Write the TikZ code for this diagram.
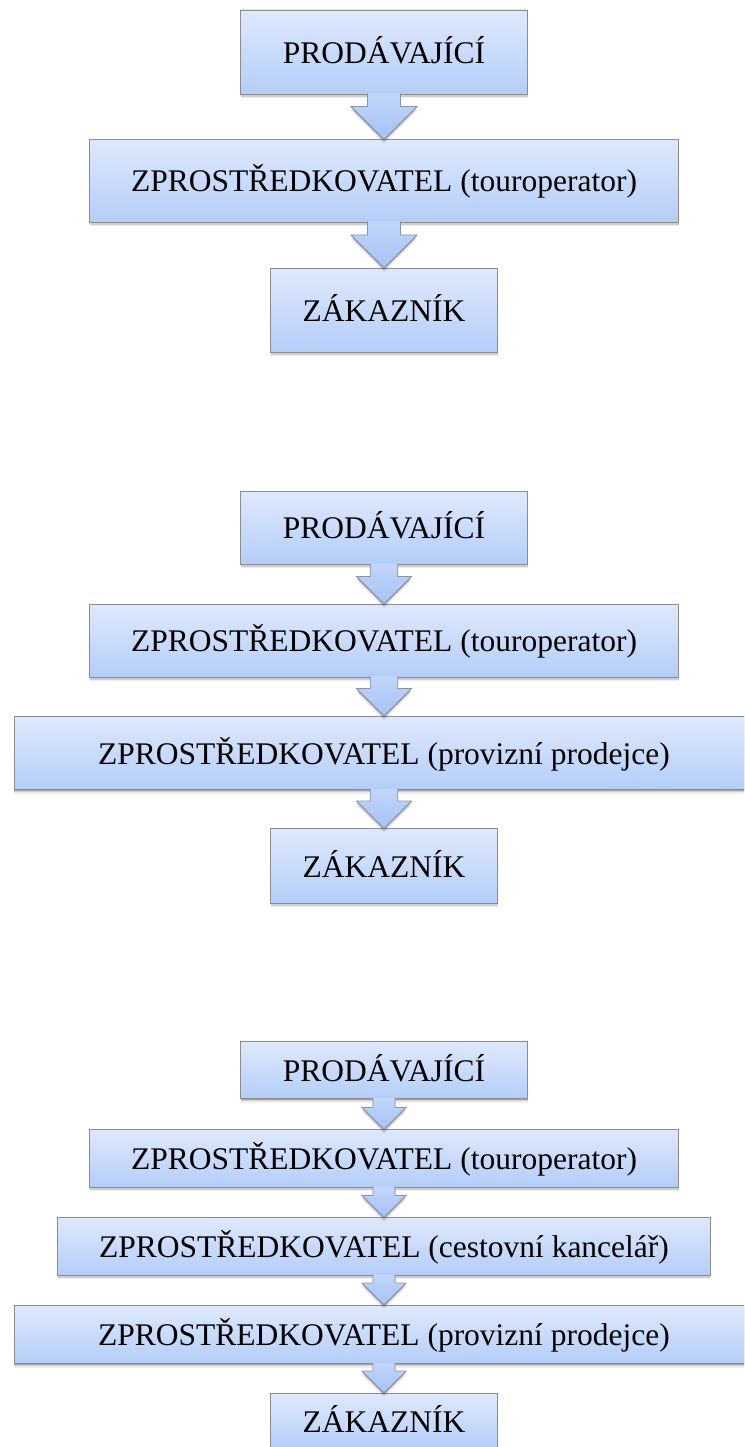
\documentclass[tikz,border=0pt]{standalone}
\usepackage{fontspec}
\setmainfont{Liberation Serif}
\usetikzlibrary{calc,shadows}
\definecolor{boxtop}{HTML}{DFE9FC}
\definecolor{boxbot}{HTML}{B4CDF9}
\definecolor{boxedge}{HTML}{8C8C8C}
\definecolor{arrtop}{HTML}{C3D6FA}
\definecolor{arrbot}{HTML}{A5C1F6}
\definecolor{arredge}{HTML}{8A93A6}
\tikzset{
  softshadow/.style={
    drop shadow={shadow xshift=0pt,shadow yshift=-1.2pt,opacity=0.2,fill=black},
    drop shadow={shadow xshift=0pt,shadow yshift=-2.6pt,opacity=0.13,fill=black},
    drop shadow={shadow xshift=0pt,shadow yshift=-4pt,opacity=0.07,fill=black}},
  stage/.style={rectangle, inner sep=0pt, outer sep=0pt, draw=boxedge,
    line width=0.9pt, top color=boxtop, bottom color=boxbot, softshadow,
    font=\fontsize{31.5}{36}\selectfont, text height=22.5pt, text depth=0pt},
  sellerw/.style={minimum width=287pt},
  tourw/.style={minimum width=589pt},
  agencyw/.style={minimum width=652.5pt},
  commw/.style={minimum width=740pt},
  custw/.style={minimum width=227pt},
  arrowsty/.style={draw=arredge, line width=0.8pt, line join=miter,
    top color=arrtop, bottom color=arrbot, softshadow}
}
\newcommand\blkarrow[3]{%
  \path[arrowsty]
    ($(#1.south)+(#3/2,-0.6)$) -- ($(#2.north)+(#3/2,-#3)$) --
    ($(#2.north)+(#3,-#3)$) -- (#2.north) --
    ($(#2.north)+(-#3,-#3)$) -- ($(#2.north)+(-#3/2,-#3)$) --
    ($(#1.south)+(-#3/2,-0.6)$);}
\begin{document}
\begin{tikzpicture}[x=1pt,y=-1pt]
\useasboundingbox (0,0) rectangle (744,1447);
\fill[white] (0,0) rectangle (744,1447);
\clip (0,0) rectangle (744,1447);
% diagram 1
\node[stage,sellerw,minimum height=84pt] (p1) at (384,52) {PRODÁVAJÍCÍ};
\node[stage,tourw,minimum height=82.5pt] (t1) at (384,180.75) {ZPROSTŘEDKOVATEL (touroperator)};
\node[stage,custw,minimum height=84pt] (z1) at (384,310) {ZÁKAZNÍK};
\blkarrow{p1}{t1}{33}
\blkarrow{t1}{z1}{33}
% diagram 2
\node[stage,sellerw,minimum height=73pt] (p2) at (384,527.5) {PRODÁVAJÍCÍ};
\node[stage,tourw,minimum height=73pt] (t2) at (384,640.5) {ZPROSTŘEDKOVATEL (touroperator)};
\node[stage,commw,minimum height=73.5pt] (v2) at (384,752.75) {ZPROSTŘEDKOVATEL (provizní prodejce)};
\node[stage,custw,minimum height=74.5pt] (z2) at (384,865.75) {ZÁKAZNÍK};
\blkarrow{p2}{t2}{27.5}
\blkarrow{t2}{v2}{27.5}
\blkarrow{v2}{z2}{27.5}
% diagram 3
\node[stage,sellerw,minimum height=57pt] (p3) at (384,1070) {PRODÁVAJÍCÍ};
\node[stage,tourw,minimum height=57.5pt] (t3) at (384,1158.25) {ZPROSTŘEDKOVATEL (touroperator)};
\node[stage,agencyw,minimum height=57.5pt] (c3) at (384,1246.25) {ZPROSTŘEDKOVATEL (cestovní kancelář)};
\node[stage,commw,minimum height=58.5pt] (v3) at (384,1334.25) {ZPROSTŘEDKOVATEL (provizní prodejce)};
\node[stage,custw,minimum height=57pt] (z3) at (384,1421.5) {ZÁKAZNÍK};
\blkarrow{p3}{t3}{22}
\blkarrow{t3}{c3}{22}
\blkarrow{c3}{v3}{22}
\blkarrow{v3}{z3}{22}
\end{tikzpicture}
\end{document}
